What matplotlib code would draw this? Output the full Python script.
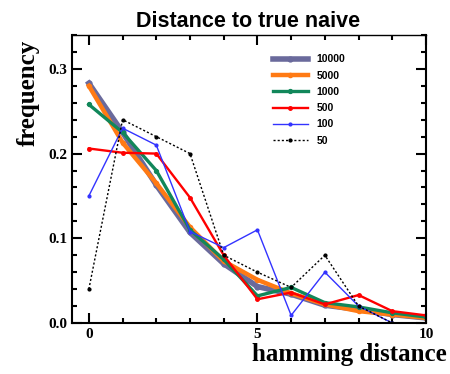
import matplotlib
matplotlib.use("Agg")
import matplotlib.pyplot as plt
from matplotlib.ticker import MultipleLocator

# hamming distance
dist = list(range(11))

# frequencies per sample size
f10000 = [0.283, 0.225, 0.163, 0.107, 0.070, 0.043, 0.034, 0.021, 0.016, 0.010, 0.006]
f5000 = [0.280, 0.213, 0.165, 0.113, 0.073, 0.051, 0.035, 0.022, 0.014, 0.010, 0.006]
f1000 = [0.258, 0.225, 0.180, 0.110, 0.075, 0.032, 0.042, 0.024, 0.019, 0.012, 0.007]
f500 = [0.206, 0.201, 0.200, 0.148, 0.080, 0.028, 0.036, 0.022, 0.033, 0.014, 0.009]
f100 = [0.150, 0.230, 0.210, 0.108, 0.089, 0.110, 0.009, 0.060, 0.020, 0.0, 0.0]
f50 = [0.040, 0.240, 0.220, 0.200, 0.080, 0.060, 0.042, 0.080, 0.020, 0.0, 0.0]

labels = ["10000", "5000", "1000", "500", "100", "50"]

fig = plt.figure(figsize=(4.5, 3.74), dpi=100)
ax = fig.add_axes([72/450, 1-323/374, (426-72)/450, (323-35)/374])

ax.plot(dist, f10000, color="#6a6a9c", lw=4, marker="o", ms=3.5, label=labels[0])
ax.plot(dist, f5000, color="#ff7a14", lw=3.2, marker="o", ms=3, label=labels[1])
ax.plot(dist, f1000, color="#11875a", lw=2.4, marker="o", ms=2.8, label=labels[2])
ax.plot(dist, f500, color="#ff0000", lw=1.7, marker="o", ms=2.5, label=labels[3])
ax.plot(dist, f100, color="#3333ff", lw=1.0, marker="o", ms=2, label=labels[4])
ax.plot(dist, f50, color="black", lw=1.0, ls=(0, (1.5, 1.5)), marker="o", ms=2, label=labels[5])

ax.set_xlim(-0.5, 10)
ax.set_ylim(0, 0.340)
ax.xaxis.set_major_locator(MultipleLocator(5))
ax.xaxis.set_minor_locator(MultipleLocator(1))
ax.set_yticks([0, 0.1, 0.2, 0.3])
ax.set_yticklabels(["0.0", "0.1", "0.2", "0.3"])
ax.yaxis.set_minor_locator(MultipleLocator(0.02))
ax.tick_params(which="both", direction="in", top=True, right=True, width=1.5)
ax.tick_params(which="major", length=7)
ax.tick_params(which="minor", length=3.6)
for s in ax.spines.values():
    s.set_linewidth(1.5)
ax.spines["top"].set_linewidth(1.0)
for t in ax.get_xticklabels() + ax.get_yticklabels():
    t.set_family("Liberation Serif")
    t.set_fontweight("bold")
    t.set_fontsize(11)

fig.text(248/450, 1-27/374, "Distance to true naive", family="Liberation Sans", fontweight="bold",
         fontsize=15.5, ha="center", va="baseline")
fig.text(447/450, 1-355/374, "hamming distance", family="Liberation Serif", fontweight="bold",
         fontsize=18, ha="right", va="center")
fig.text(28/450, 1-40/374, "frequency", family="Liberation Serif", fontweight="bold",
         fontsize=18, rotation=90, ha="center", va="top")

leg = ax.legend(loc="upper left", bbox_to_anchor=(0.54, 0.965), frameon=False,
                prop={"family": "Liberation Sans", "weight": "bold", "size": 7.5},
                handlelength=3.4, labelspacing=0.6)

fig.savefig("out.png", dpi=100)
